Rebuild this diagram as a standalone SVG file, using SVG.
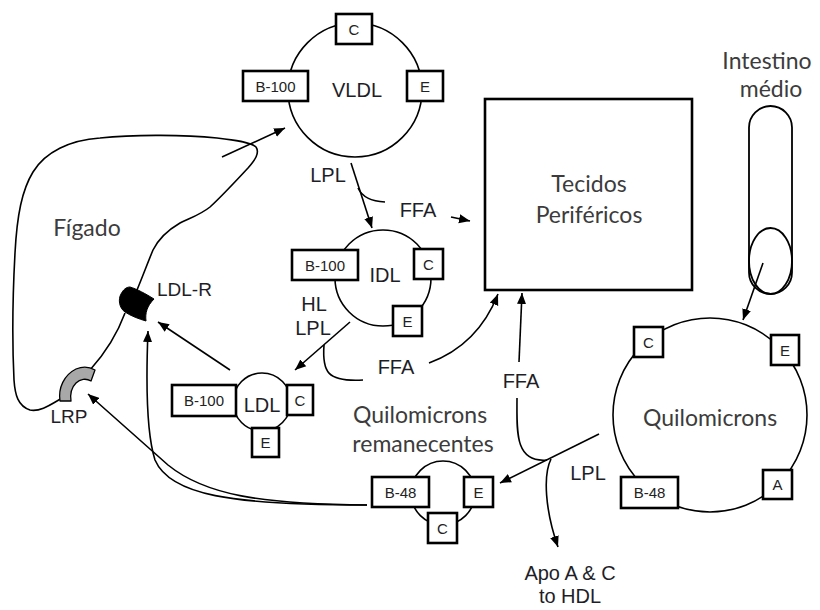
<svg xmlns="http://www.w3.org/2000/svg" width="820" height="610" viewBox="0 0 820 610">
<defs>
<marker id="arr" markerUnits="userSpaceOnUse" markerWidth="12" markerHeight="10" refX="11" refY="5" orient="auto">
<path d="M0,0.5 L11,5 L0,9.5 Z" fill="#000"/>
</marker>
<style>
.c{fill:#fff;stroke:#000;stroke-width:1.6}
.b{fill:#fff;stroke:#000;stroke-width:2.6}
.bl{font-family:"Liberation Sans",Arial,sans-serif;font-size:15px;fill:#222;text-anchor:middle}
.lb{font-family:"Liberation Sans",Arial,sans-serif;font-size:20px;fill:#1e1e28;text-anchor:middle}
.cal{font-family:Lato,"Open Sans",sans-serif;font-size:23px;fill:#3c3c3c;text-anchor:middle}
.ln{fill:none;stroke:#000;stroke-width:1.6}
.ar{fill:none;stroke:#000;stroke-width:1.6;marker-end:url(#arr)}
</style>
</defs>
<rect width="820" height="610" fill="#fff"/>

<g id="figado">
<path class="ln" d="M62 398 C50 405 40 412 30 410 C18 406 15 395 14 380 C12 340 13 290 15 253 C17 215 22 190 33 172 C45 152 70 140 100 138 C130 135 180 134 217 138 C235 140 250 142 256 147 C260 153 255 160 248 168 C235 182 222 196 210 207 C200 215 190 218 180 223 C168 230 158 240 153 250 C148 262 142 278 137 290"/>
<path class="ln" d="M125 313 C118 332 108 350 90 370"/>
<text class="cal" x="87" y="236">Fígado</text>
</g>

<g id="ldlr">
<path d="M130 287 C137 289 146 294 154 299 C147 306 145 313 146 321 C139 319 131 316 125 312 C119 308 118 299 121 294 C123 290 126 287 130 287 Z" fill="#000" stroke="#000" stroke-width="1"/>
<text class="lb" x="157" y="296" style="text-anchor:start;font-size:19px">LDL-R</text>
</g>

<g id="lrp">
<path d="M60 401 C58 388 64 375 76 369 C83 366 90 367 95 370 L91 381 C86 378 80 379 76 383 C71 388 70 394 71 401 Z" fill="#a8a8a8" stroke="#000" stroke-width="1.3" stroke-linejoin="round"/>
<text class="lb" x="69" y="423" style="font-size:19px">LRP</text>
</g>

<g id="vldl">
<circle class="c" cx="355" cy="90" r="67"/>
<rect class="b" x="336" y="14" width="36" height="30"/>
<text class="bl" x="354" y="35">C</text>
<rect class="b" x="243" y="71" width="65" height="30"/>
<text class="bl" x="275.5" y="92">B-100</text>
<rect class="b" x="407" y="71" width="36" height="30"/>
<text class="bl" x="425" y="92">E</text>
<text class="lb" x="357" y="97">VLDL</text>
</g>

<g id="idl">
<circle class="c" cx="383" cy="278" r="48"/>
<rect class="b" x="292" y="250" width="66" height="30"/>
<text class="bl" x="325" y="271">B-100</text>
<rect class="b" x="414" y="249" width="29" height="30"/>
<text class="bl" x="428.5" y="270">C</text>
<rect class="b" x="393" y="306" width="29" height="30"/>
<text class="bl" x="407.5" y="327">E</text>
<text class="lb" x="385" y="282">IDL</text>
</g>

<g id="ldl">
<circle class="c" cx="262" cy="402" r="29"/>
<rect class="b" x="172" y="385" width="64" height="31"/>
<text class="bl" x="204" y="406">B-100</text>
<rect class="b" x="287" y="385" width="26" height="30"/>
<text class="bl" x="300" y="406">C</text>
<rect class="b" x="252" y="428" width="27" height="29"/>
<text class="bl" x="265.5" y="448">E</text>
<text class="lb" x="262" y="412">LDL</text>
</g>

<g id="tecidos">
<rect x="485" y="99" width="207" height="191" fill="#fff" stroke="#000" stroke-width="2.6"/>
<text class="cal" x="589" y="192">Tecidos</text>
<text class="cal" x="589" y="223">Periféricos</text>
</g>

<g id="intestino">
<text class="cal" x="767" y="69">Intestino</text>
<text class="cal" x="771" y="97">médio</text>
<rect x="749" y="106" width="43" height="188" rx="21.5" fill="#fff" stroke="#000" stroke-width="1.8"/>
<ellipse cx="770.5" cy="261" rx="21.5" ry="33" fill="none" stroke="#000" stroke-width="1.8"/>
</g>

<g id="quilomicrons">
<circle class="c" cx="710" cy="415" r="97"/>
<rect class="b" x="634" y="327" width="29" height="30"/>
<text class="bl" x="648.5" y="348">C</text>
<rect class="b" x="771" y="335" width="28" height="30"/>
<text class="bl" x="785" y="356">E</text>
<rect class="b" x="763" y="470" width="29" height="29"/>
<text class="bl" x="777.5" y="490">A</text>
<rect class="b" x="621" y="477" width="57" height="31"/>
<text class="bl" x="649.5" y="498">B-48</text>
<text class="cal" x="710" y="426">Quilomicrons</text>
</g>

<g id="remanecentes">
<text class="cal" x="420" y="423">Quilomicrons</text>
<text class="cal" x="423" y="452">remanecentes</text>
<circle class="c" cx="443" cy="493" r="32"/>
<rect class="b" x="372" y="477" width="57" height="30"/>
<text class="bl" x="400.5" y="498">B-48</text>
<rect class="b" x="464" y="477" width="29" height="30"/>
<text class="bl" x="478.5" y="498">E</text>
<rect class="b" x="428" y="513" width="29" height="30"/>
<text class="bl" x="442.5" y="534">C</text>
</g>

<g id="connectors">
<path class="ar" d="M222 157 L285 128"/>
<path class="ar" d="M351 163 L372 228"/>
<path class="ln" d="M358 188 Q364 201 385 202"/>
<path class="ar" d="M451 217 L470 221"/>
<path class="ar" d="M350 322 L295 370"/>
<path class="ln" d="M324 345 C322 372 327 382 363 380"/>
<path class="ar" d="M429 363 Q478 345 498 294"/>
<path class="ar" d="M230 370 L158 322"/>
<path class="ar" d="M367 505 C260 504 205 495 168 465 L88 394"/>
<path class="ar" d="M367 505 C230 505 170 495 155 460 C146 432 146 380 148 331"/>
<path class="ar" d="M763 263 L743 320"/>
<path class="ar" d="M599 434 L500 483"/>
<path class="ln" d="M517 398 C517 430 514 463 547 460"/>
<path class="ar" d="M519 362 L522 293"/>
<path class="ar" d="M551 459 C543 475 545 510 558 547"/>
<text class="lb" x="328" y="182">LPL</text>
<text class="lb" x="418" y="217">FFA</text>
<text class="lb" x="314" y="311">HL</text>
<text class="lb" x="313" y="335">LPL</text>
<text class="lb" x="396" y="374">FFA</text>
<text class="lb" x="521" y="388">FFA</text>
<text class="lb" x="588" y="480">LPL</text>
<text class="lb" x="570" y="580">Apo A &amp; C</text>
<text class="lb" x="570" y="603">to HDL</text>
</g>
</svg>
